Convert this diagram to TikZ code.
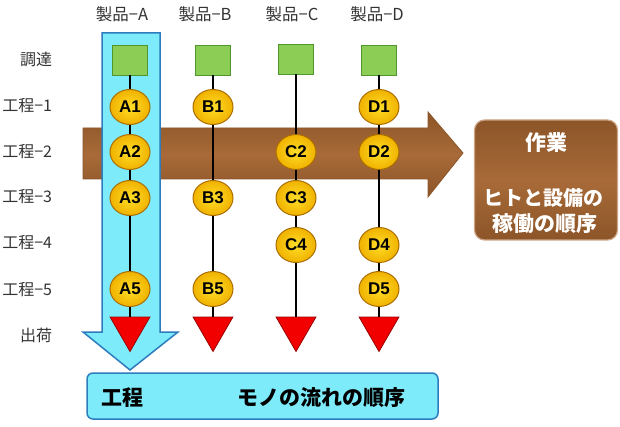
\documentclass[tikz,border=0pt]{standalone}
\usepackage{fontspec}
\setmainfont{Noto Sans CJK JP}
\newfontfamily\latinfont{Liberation Sans}
\usetikzlibrary{shapes.geometric}
\definecolor{leaf}{RGB}{140,205,85}
\definecolor{leafdark}{RGB}{80,150,45}
\definecolor{gold}{RGB}{255,222,40}
\definecolor{goldedge}{RGB}{240,178,0}
\definecolor{golddark}{RGB}{170,110,0}
\definecolor{flowcyan}{RGB}{125,235,250}
\definecolor{flowblue}{RGB}{45,125,190}
\definecolor{work}{RGB}{168,106,56}
\definecolor{workdark}{RGB}{140,85,40}

\begin{document}
\begin{tikzpicture}[x=1pt, y=-1pt, line width=1.8pt,
  supply/.style={rectangle,draw=leafdark,line width=0.8pt,fill=leaf,minimum width=35pt,minimum height=30pt,inner sep=0pt},
  proc/.style={ellipse,draw=golddark,line width=1pt,inner color=gold,outer color=goldedge,text=black,minimum width=40pt,minimum height=35pt,inner sep=0pt,font=\latinfont\fontsize{17}{17}\selectfont\bfseries},
  ship/.style={regular polygon,regular polygon sides=3,shape border rotate=180,draw=red!60!black,line width=0.8pt,fill=red!95!black,minimum size=46pt,inner sep=0pt},
  rowlab/.style={anchor=east,inner sep=0pt,text=black!80,font=\fontsize{16}{16}\selectfont},
  collab/.style={text=black!80,font=\fontsize{16.5}{16.5}\selectfont}]
  \useasboundingbox (0,0) rectangle (620,427);

  % work order (brown) and flow of goods (cyan)
  \draw[draw=workdark,line width=0.8pt,top color=workdark,bottom color=workdark,middle color=work]
    (83,128) -- (428,128) -- (428,112) -- (463,153) -- (428,197) -- (428,179) -- (83,179) -- cycle;
  \draw[draw=flowblue,line width=1.5pt,fill=flowcyan]
    (102,33) -- (160,33) -- (160,332) -- (178,332) -- (130,370) -- (83,332) -- (102,332) -- cycle;

  \node[draw=work!60!white,line width=1.2pt,rounded corners=10pt,top color=workdark,bottom color=workdark,middle color=work,minimum width=143pt,minimum height=120pt] (sagyo) at (546,180) {};
  \node[text=white,font=\fontsize{21}{21}\selectfont\bfseries] at (546,143) {作業};
  \node[text=white,font=\fontsize{20}{20}\selectfont\bfseries] at (543,198) {ヒトと設備の};
  \node[text=white,font=\fontsize{21}{21}\selectfont\bfseries] at (545,224) {稼働の順序};

  \node[draw=flowblue,line width=1.5pt,rounded corners=6pt,fill=flowcyan,minimum width=351pt,minimum height=46pt] (koutei) at (262.5,396) {};
  \node[anchor=west,font=\fontsize{21}{21}\selectfont\bfseries] at (97,398) {工程};
  \node[anchor=west,font=\fontsize{21}{21}\selectfont\bfseries] at (233,398) {モノの流れの順序};

  % labels
  \node[collab] at (122,14) {製品−A};
  \node[collab] at (205,14) {製品−B};
  \node[collab] at (292,14) {製品−C};
  \node[collab] at (377,14) {製品−D};
  \node[rowlab] at (53,59) {調達};
  \node[rowlab] at (53,106) {工程−1};
  \node[rowlab] at (53,152) {工程−2};
  \node[rowlab] at (53,197) {工程−3};
  \node[rowlab] at (53,243) {工程−4};
  \node[rowlab] at (53,290) {工程−5};
  \node[rowlab] at (53,335) {出荷};

  % product A
  \node[supply] (sA) at (130,60) {};
  \node[proc] (A1) at (130,107) {A1};
  \node[proc] (A2) at (130,152) {A2};
  \node[proc] (A3) at (130,198) {A3};
  \node[proc] (A5) at (130,289) {A5};
  \node[ship] (tA) at (130,328.5) {};
  % product B
  \node[supply] (sB) at (213,60) {};
  \node[proc] (B1) at (213,107) {B1};
  \node[proc] (B3) at (213,198) {B3};
  \node[proc] (B5) at (213,289) {B5};
  \node[ship] (tB) at (213,328.5) {};
  % product C
  \node[supply] (sC) at (296,59) {};
  \node[proc] (C2) at (296,152) {C2};
  \node[proc] (C3) at (296,198) {C3};
  \node[proc] (C4) at (296,245) {C4};
  \node[ship] (tC) at (296,328.5) {};
  % product D
  \node[supply] (sD) at (379,60) {};
  \node[proc] (D1) at (379,107) {D1};
  \node[proc] (D2) at (379,152) {D2};
  \node[proc] (D4) at (379,245) {D4};
  \node[proc] (D5) at (379,289) {D5};
  \node[ship] (tD) at (379,328.5) {};

  \path[draw=black]
    (sA) edge (A1) (A1) edge (A2) (A2) edge (A3) (A3) edge (A5) (A5) edge (tA)
    (sB) edge (B1) (B1) edge (B3) (B3) edge (B5) (B5) edge (tB)
    (sC) edge (C2) (C2) edge (C3) (C3) edge (C4) (C4) edge (tC)
    (sD) edge (D1) (D1) edge (D2) (D2) edge (D4) (D4) edge (D5) (D5) edge (tD);
\end{tikzpicture}
\end{document}
